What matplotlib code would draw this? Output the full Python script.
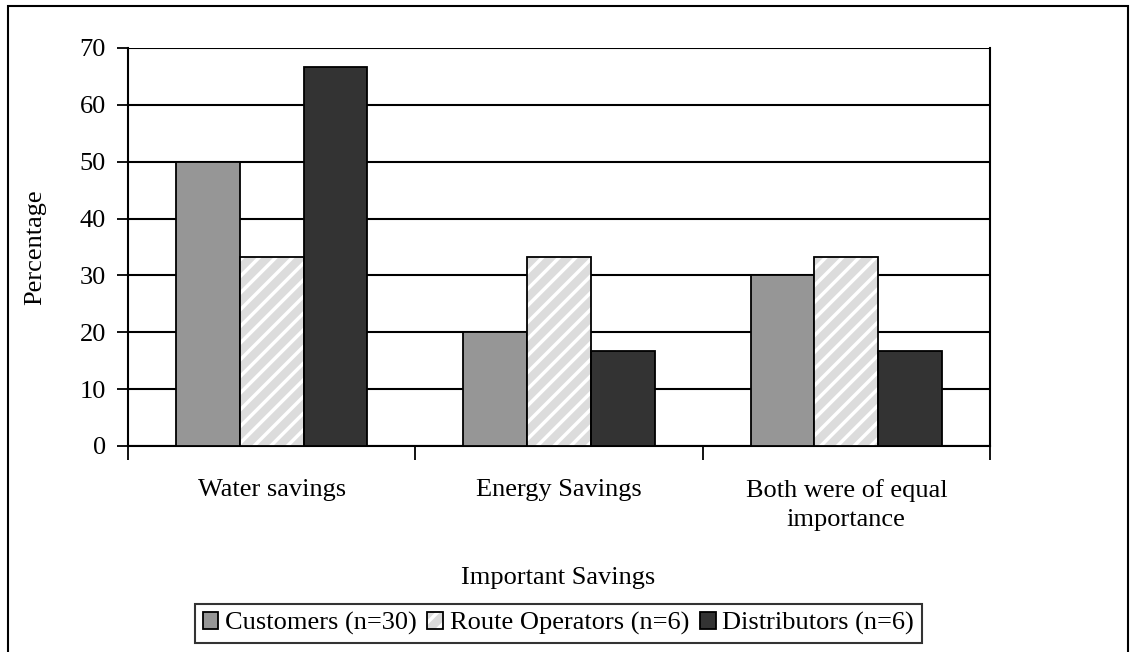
import numpy as np
import matplotlib.pyplot as plt
from matplotlib.patches import Rectangle, Patch

categories = ["Water savings", "Energy Savings", "Both were of equal\nimportance"]
customers = [50.0, 20.0, 30.0]
route_operators = [33.3, 33.3, 33.3]
distributors = [66.7, 16.7, 16.7]
series_labels = ["Customers (n=30)", "Route Operators (n=6)", "Distributors (n=6)"]

plt.rcParams["font.family"] = ["Liberation Serif", "DejaVu Serif"]
plt.rcParams["hatch.linewidth"] = 2.5
plt.rcParams["hatch.color"] = "white"

FS = 19
GREY, HATCH_BG, DARK = "#969696", "#dcdcdc", "#333333"

fig = plt.figure(figsize=(11.3, 6.52), dpi=100)
ax = fig.add_axes([0.1133, 0.316, 0.7628, 0.6104])

x = np.arange(len(categories))
w = 0.222

ax.bar(x - w, customers, w, color=GREY, edgecolor="black", linewidth=1.3, zorder=3)
# hatched fill first, then the black outline on top
ax.bar(x, route_operators, w, color=HATCH_BG, edgecolor="white", hatch="//",
       linewidth=0, zorder=3)
ax.bar(x, route_operators, w, fill=False, edgecolor="black", linewidth=1.3, zorder=4)
ax.bar(x + w, distributors, w, color=DARK, edgecolor="black", linewidth=1.3, zorder=3)

ax.set_xlim(-0.5, 2.5)
ax.set_ylim(0, 70)
ax.set_yticks(np.arange(0, 71, 10))
ax.yaxis.grid(True, color="black", linewidth=1.5, zorder=1)
ax.set_axisbelow(True)

ax.set_xticks([-0.5, 0.5, 1.5, 2.5])
ax.set_xticklabels([])
ax.set_xticks(x, minor=True)
ax.set_xticklabels(categories, minor=True, fontsize=FS, linespacing=1.4)
ax.tick_params(axis="x", which="major", direction="out", length=10, width=1.3)
ax.tick_params(axis="x", which="minor", length=0, pad=24)
ax.tick_params(axis="y", direction="out", length=8, width=1.3, labelsize=FS, pad=8)

for side in ["left", "bottom", "right"]:
    ax.spines[side].set_linewidth(1.5)
ax.spines["top"].set_visible(False)

ax.set_ylabel("Percentage", fontsize=FS)
ax.yaxis.set_label_coords(-0.095, 0.5)

fig.text(0.494, 1 - 584 / 652, "Important Savings", fontsize=FS,
         ha="center", va="baseline")

hatched = (Patch(facecolor=HATCH_BG, edgecolor="white", hatch="//", linewidth=0),
           Patch(fill=False, edgecolor="black", linewidth=1.3))
handles = [
    Patch(facecolor=GREY, edgecolor="black", linewidth=1.3),
    hatched,
    Patch(facecolor=DARK, edgecolor="black", linewidth=1.3),
]
leg = fig.legend(handles, series_labels, loc="center", bbox_to_anchor=(0.494, 0.0437),
                 ncol=3, fontsize=FS, frameon=True, fancybox=False, edgecolor="black",
                 handlelength=0.6, handleheight=0.6, handletextpad=0.25,
                 columnspacing=0.4, borderpad=0.3, borderaxespad=0)
leg.get_frame().set_linewidth(1.5)

# outer chart border
fig.patches.append(Rectangle((8 / 1130, -0.02), 1120 / 1130, 1.02 - 6 / 652,
                             transform=fig.transFigure, fill=False,
                             edgecolor="black", linewidth=1.5))

fig.savefig("out.png", dpi=100)
